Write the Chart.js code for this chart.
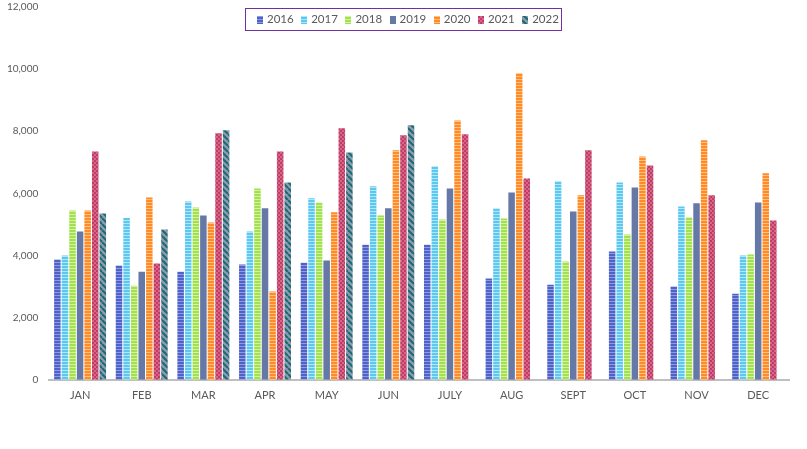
<!DOCTYPE html>
<html>
<head>
<meta charset="utf-8">
<script src="https://cdn.jsdelivr.net/npm/chart.js@4"></script>
<style>
  html, body { margin: 0; padding: 0; background: #fff; overflow: hidden; }
  #wrap { width: 807px; height: 449px; overflow: hidden; }
  #salesChart { display: block; margin-top: -10px; }
</style>
</head>
<body>
<div id="wrap"><canvas id="salesChart" width="807" height="459"></canvas></div>
<script>
// ==== Données
const months = ["JAN", "FEB", "MAR", "APR", "MAY", "JUN", "JULY", "AUG", "SEPT", "OCT", "NOV", "DEC"];
const years = ["2016", "2017", "2018", "2019", "2020", "2021", "2022"];

const v2016 = [3870, 3680, 3480, 3710, 3770, 4350, 4350, 3260, 3060, 4130, 3000, 2770];
const v2017 = [4000, 5210, 5740, 4770, 5840, 6230, 6870, 5520, 6390, 6350, 5580, 4000];
const v2018 = [5450, 3030, 5550, 6160, 5710, 5290, 5160, 5190, 3810, 4680, 5230, 4030];
const v2019 = [4770, 3480, 5290, 5520, 3840, 5520, 6160, 6030, 5420, 6190, 5680, 5710];
const v2020 = [5450, 5870, 5060, 2840, 5390, 7390, 8350, 9870, 5940, 7190, 7710, 6650];
const v2021 = [7350, 3740, 7940, 7350, 8100, 7870, 7900, 6480, 7390, 6900, 5940, 5130];
const v2022 = [5350, 4840, 8030, 6350, 7320, 8190, null, null, null, null, null, null];

const yTicks = [0, 2000, 4000, 6000, 8000, 10000, 12000];

// ==== Motifs de remplissage
function makeTile(w, h, draw) {
  const c = document.createElement("canvas");
  c.width = w;
  c.height = h;
  draw(c.getContext("2d"));
  return document.createElement("canvas").getContext("2d").createPattern(c, "repeat");
}

function hStripes(base, light) {
  return makeTile(3, 3, (g) => {
    g.fillStyle = base;
    g.fillRect(0, 0, 3, 3);
    g.fillStyle = light;
    g.fillRect(0, 2, 3, 1);
  });
}

function checker(a, b) {
  return makeTile(4, 4, (g) => {
    g.fillStyle = a;
    g.fillRect(0, 0, 4, 4);
    g.fillStyle = b;
    g.fillRect(0, 0, 2, 2);
    g.fillRect(2, 2, 2, 2);
  });
}

function diagonal(bg, fg) {
  return makeTile(6, 6, (g) => {
    g.fillStyle = bg;
    g.fillRect(0, 0, 6, 6);
    g.strokeStyle = fg;
    g.lineWidth = 2;
    g.beginPath();
    for (let k = -6; k <= 12; k += 6) {
      g.moveTo(k, 0);
      g.lineTo(k + 6, 6);
    }
    g.stroke();
  });
}

const fills = [
  hStripes("#4e62c8", "#8e9be0"),
  hStripes("#5cc8f0", "#b0e6fa"),
  hStripes("#a2e050", "#d2f49c"),
  "#6578a6",
  hStripes("#ff8a26", "#ffc080"),
  checker("#d86686", "#c03c68"),
  diagonal("#9297c2", "#17705e"),
];

const series = [v2016, v2017, v2018, v2019, v2020, v2021, v2022];

// ==== Légende encadrée (par-dessus la zone du graphique)
// le canvas est remonté de 10px, d'où le décalage vertical
const boxedLegend = {
  id: "boxedLegend",
  afterDraw(chart) {
    const ctx = chart.ctx;
    const sets = chart.data.datasets;
    ctx.save();
    ctx.font = "11.5px Lato";
    ctx.textBaseline = "middle";
    const sw = 6, sh = 8, gapSw = 4, step = 44.2;
    const left = 245.5, right = 561.5, top = 18.5, bottom = 40.5;
    ctx.strokeStyle = "#7030a0";
    ctx.lineWidth = 1;
    ctx.strokeRect(left, top, right - left, bottom - top);
    const cy = (top + bottom) / 2;
    let x = 257;
    sets.forEach((d) => {
      ctx.fillStyle = d.backgroundColor;
      ctx.fillRect(Math.round(x), Math.round(cy - sh / 2), sw, sh);
      ctx.fillStyle = "#595959";
      ctx.fillText(d.label, x + sw + gapSw, cy);
      x += step;
    });
    ctx.restore();
  },
};

// ==== Graphique
const ctx = document.getElementById("salesChart").getContext("2d");
const salesChart = new Chart(ctx, {
  type: "bar",
  data: {
    labels: months,
    datasets: years.map((y, i) => ({
      label: y,
      data: series[i],
      backgroundColor: fills[i],
      borderWidth: 0,
      categoryPercentage: 0.86,
      barPercentage: 0.86,
    })),
  },
  options: {
    responsive: false,
    devicePixelRatio: 1,
    animation: false,
    layout: { padding: { left: -4, right: 18, top: 0, bottom: 38 } },
    plugins: {
      legend: { display: false },
      tooltip: { enabled: false },
    },
    scales: {
      x: {
        grid: { display: false, drawTicks: false },
        border: { display: true, color: "#bfbfbf", width: 2 },
        ticks: { color: "#595959", font: { family: "Lato", size: 11 }, padding: 9 },
      },
      y: {
        min: 0,
        max: 12000,
        afterBuildTicks(axis) {
          axis.ticks = yTicks.map((v) => ({ value: v }));
        },
        grid: { display: false, drawTicks: false },
        border: { display: false },
        ticks: {
          color: "#595959",
          font: { family: "Lato", size: 10 },
          padding: 11,
          callback: (v) => v.toLocaleString("en-US"),
        },
      },
    },
  },
  plugins: [boxedLegend],
});
</script>
</body>
</html>
